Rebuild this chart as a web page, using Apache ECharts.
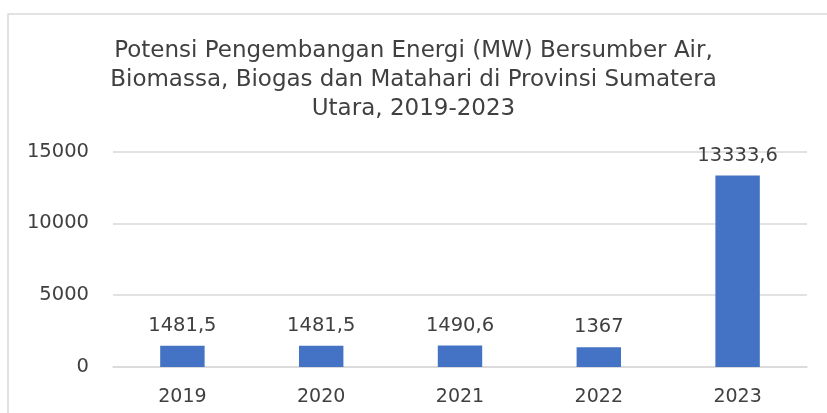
<!DOCTYPE html>
<html>
<head>
<meta charset="utf-8">
<script src="https://cdn.jsdelivr.net/npm/echarts@6/dist/echarts.min.js"></script>
<style>html,body{margin:0;padding:0;background:#fff;}#c{width:827px;height:413px;}</style>
</head>
<body>
<div id="c"></div>
<script>
var titleText = 'Potensi Pengembangan Energi (MW) Bersumber Air,\nBiomassa, Biogas dan Matahari di Provinsi Sumatera\nUtara, 2019-2023';
var categories = ['2019', '2020', '2021', '2022', '2023'];
var values = [1481.5, 1481.5, 1490.6, 1367, 13333.6];
var labelTexts = ['1481,5', '1481,5', '1490,6', '1367', '13333,6'];
var yTicks = [0, 5000, 10000, 15000];

var chart = echarts.init(document.getElementById('c'), null, {renderer: 'canvas'});
var font = '"DejaVu Sans", sans-serif';
chart.setOption({
  animation: false,
  graphic: [{
    type: 'rect', shape: {x: 8, y: 14, width: 830, height: 420},
    style: {fill: 'none', stroke: '#d9d9d9', lineWidth: 1.5}, silent: true
  }],
  title: {
    text: titleText, left: 'center', top: 32,
    textStyle: {fontFamily: font, fontSize: 23, fontWeight: 'normal', color: '#404040', lineHeight: 29}
  },
  grid: {left: 113, right: 20, top: 151.5, bottom: 46},
  xAxis: {
    type: 'category', data: categories,
    axisLine: {show: true, lineStyle: {color: '#d9d9d9', width: 1.5}},
    axisTick: {show: false},
    axisLabel: {fontFamily: font, fontSize: 19, color: '#404040', margin: 21}
  },
  yAxis: {
    type: 'value', min: yTicks[0], max: yTicks[yTicks.length - 1], interval: 5000,
    axisLine: {show: false}, axisTick: {show: false},
    splitLine: {lineStyle: {color: '#d9d9d9', width: 1.5}},
    axisLabel: {fontFamily: font, fontSize: 19.5, color: '#404040', margin: 24,
      formatter: function (v) { return String(v); }}
  },
  series: [{
    type: 'bar', data: values, barWidth: '32%',
    itemStyle: {color: '#4472C4'},
    label: {
      show: true, position: 'top', distance: 10,
      fontFamily: font, fontSize: 19.5, color: '#404040',
      formatter: function (p) { return labelTexts[p.dataIndex]; }
    }
  }]
});
</script>
</body>
</html>
